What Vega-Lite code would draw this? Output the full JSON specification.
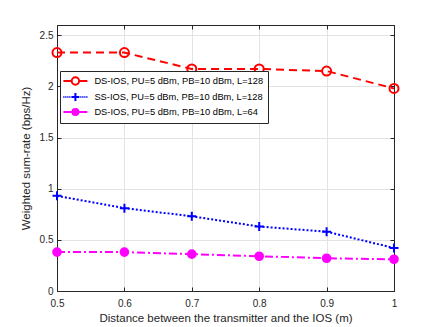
{
 "$schema": "https://vega.github.io/schema/vega-lite/v6.json",
 "width": 337, "height": 266,
 "autosize": {"type": "none"},
 "padding": {"left": 57, "top": 25, "right": 42, "bottom": 36},
 "background": "white",
 "config": {
  "font": "Liberation Sans",
  "view": {"stroke": "#262626", "strokeWidth": 1},
  "axis": {"domainColor": "#262626", "domainWidth": 1, "tickColor": "#262626", "tickSize": -4, "tickWidth": 1,
           "labelColor": "#262626", "labelFont": "Liberation Sans", "labelFontSize": 10, "labelFlush": false,
           "titleColor": "#262626", "titleFont": "Liberation Sans", "titleFontSize": 11.5, "titleFontWeight": "normal",
           "gridColor": "#E3E3E3", "gridWidth": 1}
 },
 "data": {"values": [
  {"d": 0.5, "r": 2.33, "series": "DS-IOS, PU=5 dBm, PB=10 dBm, L=128"},
  {"d": 0.6, "r": 2.33, "series": "DS-IOS, PU=5 dBm, PB=10 dBm, L=128"},
  {"d": 0.7, "r": 2.17, "series": "DS-IOS, PU=5 dBm, PB=10 dBm, L=128"},
  {"d": 0.8, "r": 2.17, "series": "DS-IOS, PU=5 dBm, PB=10 dBm, L=128"},
  {"d": 0.9, "r": 2.15, "series": "DS-IOS, PU=5 dBm, PB=10 dBm, L=128"},
  {"d": 1.0, "r": 1.98, "series": "DS-IOS, PU=5 dBm, PB=10 dBm, L=128"},
  {"d": 0.5, "r": 0.93, "series": "SS-IOS, PU=5 dBm, PB=10 dBm, L=128"},
  {"d": 0.6, "r": 0.81, "series": "SS-IOS, PU=5 dBm, PB=10 dBm, L=128"},
  {"d": 0.7, "r": 0.73, "series": "SS-IOS, PU=5 dBm, PB=10 dBm, L=128"},
  {"d": 0.8, "r": 0.63, "series": "SS-IOS, PU=5 dBm, PB=10 dBm, L=128"},
  {"d": 0.9, "r": 0.58, "series": "SS-IOS, PU=5 dBm, PB=10 dBm, L=128"},
  {"d": 1.0, "r": 0.42, "series": "SS-IOS, PU=5 dBm, PB=10 dBm, L=128"},
  {"d": 0.5, "r": 0.38, "series": "DS-IOS, PU=5 dBm, PB=10 dBm, L=64"},
  {"d": 0.6, "r": 0.38, "series": "DS-IOS, PU=5 dBm, PB=10 dBm, L=64"},
  {"d": 0.7, "r": 0.36, "series": "DS-IOS, PU=5 dBm, PB=10 dBm, L=64"},
  {"d": 0.8, "r": 0.34, "series": "DS-IOS, PU=5 dBm, PB=10 dBm, L=64"},
  {"d": 0.9, "r": 0.32, "series": "DS-IOS, PU=5 dBm, PB=10 dBm, L=64"},
  {"d": 1.0, "r": 0.31, "series": "DS-IOS, PU=5 dBm, PB=10 dBm, L=64"}
 ]},
 "layer": [
  {
   "transform": [{"filter": {"field": "series", "equal": "DS-IOS, PU=5 dBm, PB=10 dBm, L=128"}}],
   "mark": {"type": "line", "strokeWidth": 2, "stroke": "#FF0000", "strokeDash": [8, 5]},
   "encoding": {
    "x": {"field": "d", "type": "quantitative", "scale": {"domain": [0.5, 1]},
          "axis": {"values": [0.5, 0.6, 0.7, 0.8, 0.9, 1], "format": ".1~f", "grid": true, "labelPadding": 11, "titlePadding": 4,
                   "title": "Distance between the transmitter and the IOS (m)"}},
    "y": {"field": "r", "type": "quantitative", "scale": {"domain": [0, 2.5]},
          "axis": {"values": [0, 0.5, 1, 1.5, 2, 2.5], "format": ".1~f", "grid": true, "labelPadding": 8, "titlePadding": 8,
                   "title": "Weighted sum-rate (bps/Hz)"}}
   }
  },
  {
   "transform": [{"filter": {"field": "series", "equal": "SS-IOS, PU=5 dBm, PB=10 dBm, L=128"}}],
   "mark": {"type": "line", "strokeWidth": 2, "stroke": "#0000FF", "strokeDash": [2, 2]},
   "encoding": {
    "x": {"field": "d", "type": "quantitative", "axis": null},
    "y": {"field": "r", "type": "quantitative", "axis": null}
   }
  },
  {
   "transform": [{"filter": {"field": "series", "equal": "DS-IOS, PU=5 dBm, PB=10 dBm, L=64"}}],
   "mark": {"type": "line", "strokeWidth": 2, "stroke": "#FF00FF", "strokeDash": [8, 3, 2, 3]},
   "encoding": {
    "x": {"field": "d", "type": "quantitative", "axis": null},
    "y": {"field": "r", "type": "quantitative", "axis": null}
   }
  },
  {
   "transform": [{"filter": {"field": "series", "equal": "DS-IOS, PU=5 dBm, PB=10 dBm, L=128"}}],
   "mark": {"type": "point", "strokeWidth": 2, "opacity": 1, "size": 81, "stroke": "#FF0000", "fill": "transparent",
            "shape": "M1,0A1,1,0,1,1,-1,0A1,1,0,1,1,1,0"},
   "encoding": {
    "x": {"field": "d", "type": "quantitative",
          "axis": {"orient": "top", "values": [0.5, 0.6, 0.7, 0.8, 0.9, 1], "labels": false, "title": null, "grid": false}},
    "y": {"field": "r", "type": "quantitative",
          "axis": {"orient": "right", "values": [0, 0.5, 1, 1.5, 2, 2.5], "labels": false, "title": null, "grid": false}}
   }
  },
  {
   "transform": [{"filter": {"field": "series", "equal": "SS-IOS, PU=5 dBm, PB=10 dBm, L=128"}}],
   "mark": {"type": "point", "strokeWidth": 2, "opacity": 1, "size": 81, "stroke": "#0000FF", "fill": "transparent",
            "shape": "M-1,0L1,0M0,-1L0,1"},
   "encoding": {
    "x": {"field": "d", "type": "quantitative", "axis": null},
    "y": {"field": "r", "type": "quantitative", "axis": null}
   }
  },
  {
   "transform": [{"filter": {"field": "series", "equal": "DS-IOS, PU=5 dBm, PB=10 dBm, L=64"}}],
   "mark": {"type": "point", "strokeWidth": 2, "opacity": 1, "size": 81, "stroke": "#FF00FF", "fill": "#FF00FF",
            "shape": "M0.85,0A0.85,0.85,0,1,1,-0.85,0A0.85,0.85,0,1,1,0.85,0"},
   "encoding": {
    "x": {"field": "d", "type": "quantitative", "axis": null},
    "y": {"field": "r", "type": "quantitative", "axis": null}
   }
  },
  {
   "mark": {"type": "point", "strokeWidth": 2, "opacity": 0},
   "encoding": {
    "x": {"field": "d", "type": "quantitative", "axis": null},
    "y": {"field": "r", "type": "quantitative", "axis": null},
    "shape": {"field": "series", "type": "nominal",
              "scale": {"domain": ["DS-IOS, PU=5 dBm, PB=10 dBm, L=128", "SS-IOS, PU=5 dBm, PB=10 dBm, L=128", "DS-IOS, PU=5 dBm, PB=10 dBm, L=64"],
                        "range": ["M-2.4,0L-0.74,0M0.74,0L2.4,0M0.74,0A0.74,0.74,0,1,1,-0.74,0A0.74,0.74,0,1,1,0.74,0",
                                  "M-2.4,0L-2.2,0M-2,0L-1.8,0M-1.6,0L-1.4,0M-1.2,0L-1,0M1,0L1.2,0M1.4,0L1.6,0M1.8,0L2,0M2.2,0L2.4,0M-0.8,0L0.8,0M0,-0.8L0,0.8",
                                  "M-2.4,0L-0.6,0M0.6,0L2.4,0M0.6,0A0.6,0.6,0,1,1,-0.6,0A0.6,0.6,0,1,1,0.6,0"]},
              "legend": {"orient": "none", "legendX": 3, "legendY": 46, "title": null,
                         "fillColor": "white", "strokeColor": "#262626", "padding": 4,
                         "labelFont": "Liberation Sans", "labelFontSize": 9.3, "labelColor": "#000000", "labelLimit": 0,
                         "symbolSize": 100, "symbolStrokeWidth": 2, "symbolOpacity": 1, "symbolOffset": 5.4, "labelOffset": 13, "rowPadding": 0}},
    "stroke": {"field": "series", "type": "nominal",
               "scale": {"domain": ["DS-IOS, PU=5 dBm, PB=10 dBm, L=128", "SS-IOS, PU=5 dBm, PB=10 dBm, L=128", "DS-IOS, PU=5 dBm, PB=10 dBm, L=64"],
                         "range": ["#FF0000", "#0000FF", "#FF00FF"]}},
    "fill": {"field": "series", "type": "nominal",
             "scale": {"domain": ["DS-IOS, PU=5 dBm, PB=10 dBm, L=128", "SS-IOS, PU=5 dBm, PB=10 dBm, L=128", "DS-IOS, PU=5 dBm, PB=10 dBm, L=64"],
                       "range": ["transparent", "transparent", "#FF00FF"]}}
   }
  }
 ],
 "resolve": {"axis": {"x": "independent", "y": "independent"}}
}
